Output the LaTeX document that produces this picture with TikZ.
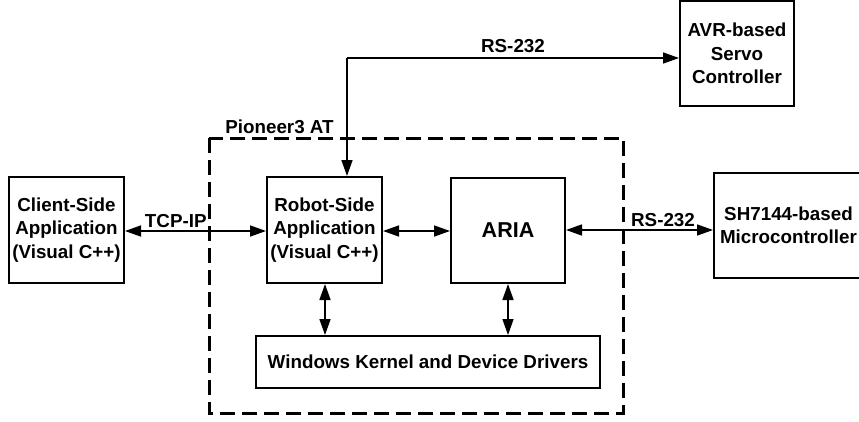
\documentclass[tikz,border=0pt]{standalone}
\usepackage{fontspec}
\setmainfont{Liberation Sans}
\usetikzlibrary{arrows.meta}

\begin{document}
\begin{tikzpicture}[
	x=1pt, y=1pt,
	font=\fontsize{18.8}{23.5}\selectfont\bfseries,
	box/.style={draw, line width=2pt, align=center, inner sep=0pt},
	link/.style={line width=1.6pt, {Triangle[length=16pt,width=11pt]}-{Triangle[length=16pt,width=11pt]}},
	tolink/.style={line width=1.6pt, -{Triangle[length=16pt,width=11pt]}}]
\useasboundingbox (0,0) rectangle (859,-421);
% robot frame
\draw[line width=3pt, dash pattern=on 15pt off 7pt] (209,-138) rectangle (623,-413);
\node (pioneer) at (279.5,-127) {Pioneer3 AT};
% blocks
\node[box, minimum width=115pt, minimum height=106pt] (client) at (66.5,-230) {Client-Side\\Application\\(Visual C++)};
\node[box, minimum width=115pt, minimum height=106pt] (robot) at (324.5,-230) {Robot-Side\\Application\\(Visual C++)};
\node[box, minimum width=114pt, minimum height=105pt, font=\fontsize{21.5}{26}\selectfont\bfseries] (aria) at (508,-230.5) {ARIA};
\node[box, minimum width=344pt, minimum height=52pt] (win) at (428,-362) {Windows Kernel and Device Drivers};
\node[box, minimum width=149pt, minimum height=105pt] (sh) at (788.5,-225.5) {SH7144-based\\Microcontroller};
\node[box, minimum width=114pt, minimum height=105pt] (avr) at (737,-53.5) {AVR-based\\Servo\\Controller};
% links
\draw[link] (client.east |- 0,-231) -- node[pos=.36, above=-1pt] (tcp) {TCP-IP} (robot.west |- 0,-231);
\draw[link] (robot.east |- 0,-231) -- (aria.west |- 0,-231);
\draw[link] (aria.east |- 0,-230) -- node[pos=.66, above=-1pt] (rsb) {RS-232} (sh.west |- 0,-230);
\draw[link] (robot.south -| 325,0) -- (win.north -| 325,0);
\draw[link] (aria.south) -- (aria.south |- win.north);
\coordinate (corner) at (347,-58);
\draw[tolink] (corner) -- node[pos=.5, above=1pt] (rsa) {RS-232} (corner -| avr.west);
\draw[tolink] (corner) -- (corner |- robot.north);
\end{tikzpicture}
\end{document}
